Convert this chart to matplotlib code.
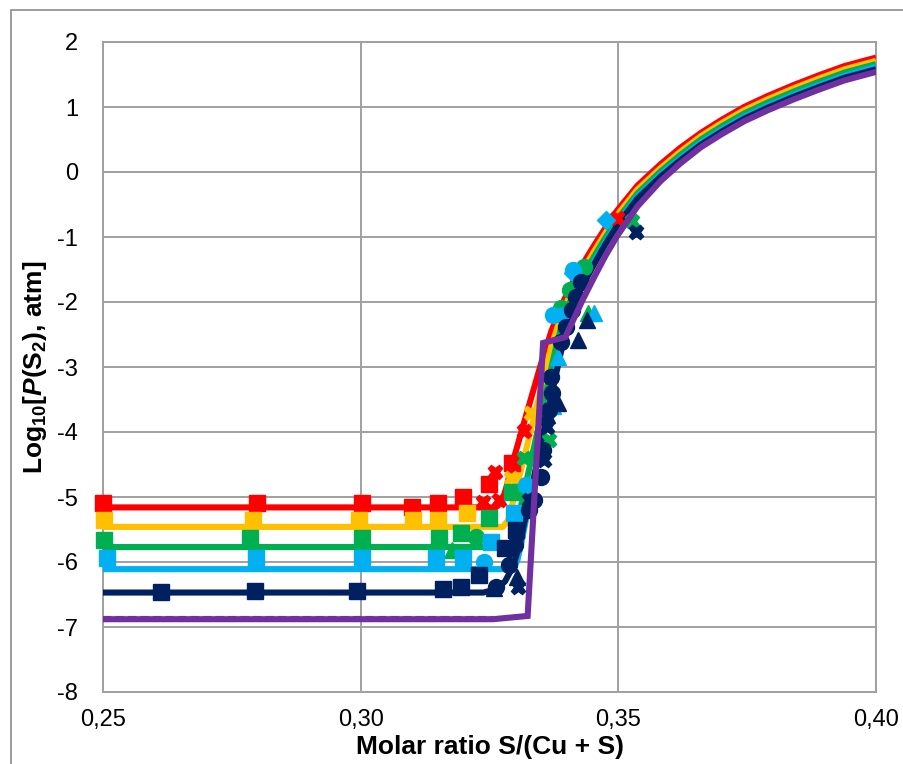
import matplotlib
matplotlib.use("Agg")
import matplotlib.pyplot as plt
from matplotlib.patches import Rectangle
from matplotlib.ticker import FuncFormatter

plt.rcParams['font.family'] = ['Liberation Sans', 'DejaVu Sans']
plt.rcParams['axes.unicode_minus'] = False
plt.rcParams['mathtext.fontset'] = 'custom'
plt.rcParams['mathtext.rm'] = 'Liberation Sans:bold'
plt.rcParams['mathtext.it'] = 'Liberation Sans:bold:italic'
plt.rcParams['mathtext.bf'] = 'Liberation Sans:bold'

# model curves, one per temperature
red_line_x = [0.2500, 0.3262, 0.3274, 0.3284, 0.3292, 0.3310, 0.3330, 0.3350, 0.3370, 0.3391, 0.3410, 0.3430,
              0.3453, 0.3475, 0.3498, 0.3537, 0.3582, 0.3620, 0.3660, 0.3700, 0.3744, 0.3790, 0.3841, 0.3890,
              0.3939, 0.4000]
red_line_y = [-5.16, -5.16, -5.08, -4.82, -4.55, -4.05, -3.50, -2.95, -2.45, -2.03, -1.72, -1.43,
              -1.13, -0.86, -0.59, -0.21, 0.12, 0.37, 0.60, 0.80, 1.00, 1.17,
              1.34, 1.49, 1.63, 1.76]

orange_line_x = [0.2500, 0.3276, 0.3286, 0.3294, 0.3310, 0.3330, 0.3350, 0.3370, 0.3391, 0.3410, 0.3430, 0.3453,
                 0.3475, 0.3498, 0.3537, 0.3582, 0.3620, 0.3660, 0.3700, 0.3744, 0.3790, 0.3841, 0.3890, 0.3939,
                 0.4000]
orange_line_y = [-5.46, -5.46, -5.36, -5.12, -4.62, -3.98, -3.33, -2.68, -2.17, -1.83, -1.53, -1.22,
                 -0.94, -0.66, -0.27, 0.06, 0.31, 0.55, 0.75, 0.95, 1.12, 1.29, 1.44, 1.58, 1.71]

green_line_x = [0.2500, 0.3286, 0.3296, 0.3304, 0.3320, 0.3340, 0.3360, 0.3380, 0.3395, 0.3410, 0.3430, 0.3453,
                0.3475, 0.3498, 0.3537, 0.3582, 0.3620, 0.3660, 0.3700, 0.3744, 0.3790, 0.3841, 0.3890, 0.3939,
                0.4000]
green_line_y = [-5.77, -5.77, -5.66, -5.40, -4.82, -4.10, -3.38, -2.66, -2.22, -1.93, -1.62, -1.30,
                -1.01, -0.73, -0.33, 0.01, 0.26, 0.50, 0.70, 0.90, 1.07, 1.24, 1.39, 1.53, 1.66]

lblue_line_x = [0.2500, 0.3294, 0.3304, 0.3312, 0.3330, 0.3350, 0.3370, 0.3390, 0.3400, 0.3410, 0.3430, 0.3453,
                0.3475, 0.3498, 0.3537, 0.3582, 0.3620, 0.3660, 0.3700, 0.3744, 0.3790, 0.3841, 0.3890, 0.3939,
                0.4000]
lblue_line_y = [-6.11, -6.11, -5.98, -5.70, -4.98, -4.18, -3.38, -2.58, -2.30, -2.04, -1.71, -1.38,
                -1.08, -0.79, -0.38, -0.04, 0.21, 0.45, 0.65, 0.85, 1.02, 1.19, 1.34, 1.48, 1.62]

navy_line_x = [0.2500, 0.3238, 0.3262, 0.3280, 0.3295, 0.3308, 0.3320, 0.3340, 0.3360, 0.3380, 0.3400, 0.3415,
               0.3430, 0.3453, 0.3475, 0.3498, 0.3537, 0.3582, 0.3620, 0.3660, 0.3700, 0.3744, 0.3790, 0.3841,
               0.3890, 0.3939, 0.4000]
navy_line_y = [-6.47, -6.47, -6.42, -6.30, -6.08, -5.75, -5.30, -4.56, -3.82, -3.08, -2.36, -2.00,
               -1.76, -1.42, -1.11, -0.82, -0.41, -0.07, 0.18, 0.42, 0.62, 0.82, 0.99, 1.16,
               1.31, 1.45, 1.58]

purple_line_x = [0.2500, 0.3257, 0.3324, 0.3354, 0.3397, 0.3410, 0.3430, 0.3453, 0.3475, 0.3498, 0.3537, 0.3582,
                 0.3620, 0.3660, 0.3700, 0.3744, 0.3790, 0.3841, 0.3890, 0.3939, 0.4000]
purple_line_y = [-6.88, -6.88, -6.83, -2.63, -2.54, -2.32, -1.98, -1.62, -1.29, -0.98, -0.53, -0.14,
                 0.13, 0.38, 0.58, 0.78, 0.95, 1.12, 1.27, 1.41, 1.54]
purple_dash_x = [0.2500, 0.3257]
purple_dash_y = [-6.86, -6.86]

# measured points
red_sq_x = [0.2500, 0.2799, 0.3003, 0.3100, 0.3151, 0.3198, 0.3249, 0.3294]
red_sq_y = [-5.09, -5.09, -5.09, -5.15, -5.09, -5.00, -4.80, -4.48]
red_cross_x = [0.3238, 0.3268, 0.3260, 0.3316, 0.3498]
red_cross_y = [-5.08, -5.05, -4.62, -3.98, -0.71]

orange_sq_x = [0.2501, 0.2791, 0.2997, 0.3102, 0.3150, 0.3207]
orange_sq_y = [-5.35, -5.35, -5.35, -5.35, -5.35, -5.24]
orange_cross_x = [0.3292, 0.3330]
orange_cross_y = [-4.70, -3.70]

green_sq_x = [0.2501, 0.2786, 0.3003, 0.3152, 0.3194, 0.3249, 0.3294]
green_sq_y = [-5.66, -5.63, -5.63, -5.63, -5.56, -5.33, -4.92]
green_circ_x = [0.3223, 0.3388, 0.3407, 0.3433]
green_circ_y = [-5.61, -2.09, -1.82, -1.46]
green_tri_x = [0.3178, 0.3442]
green_tri_y = [-5.82, -2.17]
green_cross_x = [0.3316, 0.3365, 0.3527]
green_cross_y = [-4.40, -4.12, -0.76]

lblue_sq_x = [0.2507, 0.2797, 0.3003, 0.3147, 0.3198, 0.3252, 0.3297]
lblue_sq_y = [-5.94, -5.94, -5.94, -5.94, -5.94, -5.69, -5.25]
lblue_circ_x = [0.3239, 0.3320, 0.3374, 0.3413]
lblue_circ_y = [-6.00, -4.82, -2.20, -1.51]
lblue_dia_x = [0.3388, 0.3413, 0.3476]
lblue_dia_y = [-2.22, -1.55, -0.74]
lblue_tri_x = [0.3374, 0.3382, 0.3452]
lblue_tri_y = [-3.60, -2.85, -2.17]

navy_sq_x = [0.2612, 0.2795, 0.2993, 0.3159, 0.3194, 0.3229, 0.3281, 0.3301]
navy_sq_y = [-6.46, -6.44, -6.44, -6.42, -6.38, -6.20, -5.79, -5.51]
navy_circ_x = [0.3262, 0.3287, 0.3300, 0.3326, 0.3336, 0.3349, 0.3353, 0.3365, 0.3372, 0.3369, 0.3388,
               0.3398, 0.3411, 0.3417, 0.3427]
navy_circ_y = [-6.38, -6.05, -5.74, -5.20, -5.05, -4.69, -4.28, -3.66, -3.40, -3.15, -2.61,
               -2.38, -2.12, -1.92, -1.69]
navy_tri_x = [0.3258, 0.3304, 0.3362, 0.3374, 0.3382, 0.3421, 0.3440]
navy_tri_y = [-6.40, -6.23, -3.74, -3.51, -3.56, -2.58, -2.28]
navy_cross_x = [0.3306, 0.3326, 0.3355, 0.3362, 0.3534]
navy_cross_y = [-6.38, -5.05, -4.43, -3.92, -0.92]

RED, ORANGE, GREEN, LBLUE, NAVY, PURPLE = '#FF0000', '#FFC000', '#00B050', '#00B0F0', '#002060', '#7030A0'

fig = plt.figure(figsize=(9.04, 7.64), dpi=100)
ax = fig.add_axes([103 / 904, 1 - 692 / 764, 773 / 904, 650 / 764])

fig.patches.append(Rectangle((11 / 904, -0.1), 0.99, 1.1 - 10 / 764, transform=fig.transFigure,
                             fill=False, ec='#8C8C8C', lw=1.2))

lw = 4.4
for xs, ys, c in [(red_line_x, red_line_y, RED), (orange_line_x, orange_line_y, ORANGE),
                  (green_line_x, green_line_y, GREEN), (lblue_line_x, lblue_line_y, LBLUE),
                  (navy_line_x, navy_line_y, NAVY)]:
    ax.plot(xs, ys, color=c, lw=lw, zorder=3, solid_capstyle='butt')

mk = dict(linestyle='none', zorder=4, clip_on=False)
ax.plot(red_sq_x, red_sq_y, 's', color=RED, ms=11, **mk)
ax.plot(red_cross_x, red_cross_y, 'X', color=RED, ms=10.5, **mk)
ax.plot(orange_sq_x, orange_sq_y, 's', color=ORANGE, ms=11, **mk)
ax.plot(orange_cross_x, orange_cross_y, 'X', color=ORANGE, ms=10.5, **mk)
ax.plot(green_sq_x, green_sq_y, 's', color=GREEN, ms=11, **mk)
ax.plot(green_circ_x, green_circ_y, 'o', color=GREEN, ms=11.5, **mk)
ax.plot(green_tri_x, green_tri_y, '^', color=GREEN, ms=11.5, **mk)
ax.plot(green_cross_x, green_cross_y, 'X', color=GREEN, ms=10.5, **mk)
ax.plot(lblue_sq_x, lblue_sq_y, 's', color=LBLUE, ms=11, **mk)
ax.plot(lblue_circ_x, lblue_circ_y, 'o', color=LBLUE, ms=11.5, **mk)
ax.plot(lblue_dia_x, lblue_dia_y, 'D', color=LBLUE, ms=9.5, **mk)
ax.plot(lblue_tri_x, lblue_tri_y, '^', color=LBLUE, ms=11.5, **mk)
ax.plot(navy_sq_x, navy_sq_y, 's', color=NAVY, ms=11, **mk)
ax.plot(navy_circ_x, navy_circ_y, 'o', color=NAVY, ms=11.5, **mk)
ax.plot(navy_tri_x, navy_tri_y, '^', color=NAVY, ms=11.5, **mk)
ax.plot(navy_cross_x, navy_cross_y, 'X', color=NAVY, ms=10.5, **mk)

ax.plot(purple_line_x, purple_line_y, color=PURPLE, lw=lw, zorder=5, solid_joinstyle='miter')
ax.plot(purple_dash_x, purple_dash_y, color=PURPLE, lw=3, ls=(0, (2, 1)), zorder=5)

ax.set_xlim(0.25, 0.40)
ax.set_ylim(-8, 2)
ax.set_xticks([0.25, 0.30, 0.35, 0.40])
ax.set_yticks(range(-8, 3))
ax.xaxis.set_major_formatter(FuncFormatter(lambda v, p: f"{v:.2f}".replace('.', ',')))
ax.yaxis.set_major_formatter(FuncFormatter(lambda v, p: f"{int(round(v))}"))
ax.tick_params(length=0, labelsize=17, colors='black')
ax.tick_params(axis='x', pad=12)
ax.tick_params(axis='y', pad=18)
ax.grid(True, color='#A0A0A0', lw=1.4, zorder=0)
ax.set_axisbelow(True)
for s in ax.spines.values():
    s.set_color('#A0A0A0')
    s.set_linewidth(1.4)

ax.set_xlabel('Molar ratio S/(Cu + S)', fontsize=19, fontweight='bold', labelpad=3)
ax.set_ylabel(r'Log$_{10}$[$P$(S$_2$), atm]', fontsize=19, fontweight='bold', labelpad=6)

fig.savefig('out.png', dpi=100)
